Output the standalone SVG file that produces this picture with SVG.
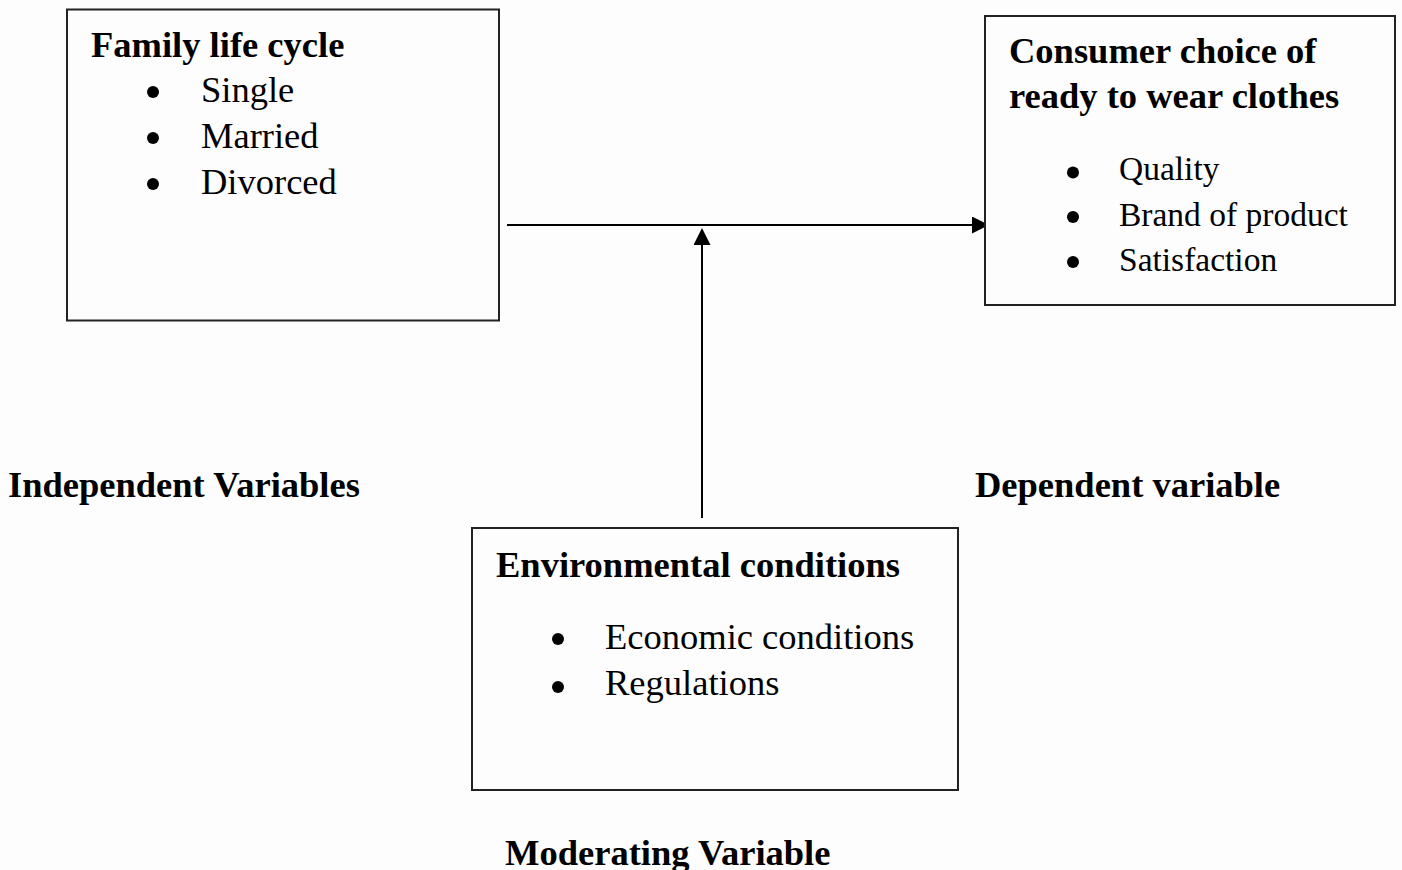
<svg xmlns="http://www.w3.org/2000/svg" width="1402" height="870" viewBox="0 0 1402 870">
<style>
.box{fill:#fdfdfd;stroke:#222;stroke-width:2}
.t{font-family:"Liberation Serif","Times New Roman",serif;fill:#000}
.b{font-weight:bold;font-size:36.5px}
.r{font-size:36.5px}
.rs{font-size:33.5px}
.dot{fill:#000}
.conn{stroke:#000;stroke-width:2;fill:none;marker-end:url(#ah)}
</style>
<defs>
<marker id="ah" markerWidth="17" markerHeight="17" refX="15" refY="8.5" orient="auto" markerUnits="userSpaceOnUse" viewBox="0 0 17 17">
<path d="M0,0 L17,8.5 L0,17 Z" fill="#000"/>
</marker>
</defs>
<rect width="1402" height="870" fill="#fdfdfd"/>
<g id="connectors">
<line class="conn" x1="507" y1="225" x2="987" y2="225"/>
<line class="conn" x1="702" y1="518" x2="702" y2="230"/>
</g>
<g id="family-life-cycle">
<rect class="box" x="67" y="9.5" width="432" height="311"/>
<text class="t b" x="91" y="57">Family life cycle</text>
<circle class="dot" cx="153" cy="92" r="6"/>
<circle class="dot" cx="153" cy="138" r="6"/>
<circle class="dot" cx="153" cy="184" r="6"/>
<text class="t r" x="201" y="102">Single</text>
<text class="t r" x="201" y="148">Married</text>
<text class="t r" x="201" y="194">Divorced</text>
</g>
<g id="consumer-choice">
<rect class="box" x="985" y="16" width="410" height="289"/>
<text class="t b" x="1009" y="63">Consumer choice of</text>
<text class="t b" x="1009" y="108">ready to wear clothes</text>
<circle class="dot" cx="1073" cy="172.5" r="6"/>
<circle class="dot" cx="1073" cy="217" r="6"/>
<circle class="dot" cx="1073" cy="262" r="6"/>
<text class="t rs" x="1119" y="180">Quality</text>
<text class="t rs" x="1119" y="226">Brand of product</text>
<text class="t rs" x="1119" y="271">Satisfaction</text>
</g>
<g id="environmental-conditions">
<rect class="box" x="472" y="528" width="486" height="262"/>
<text class="t b" x="496" y="577">Environmental conditions</text>
<circle class="dot" cx="558" cy="639" r="6"/>
<circle class="dot" cx="558" cy="687" r="6"/>
<text class="t r" x="605" y="649">Economic conditions</text>
<text class="t r" x="605" y="695">Regulations</text>
</g>
<g id="labels">
<text class="t b" x="8" y="497">Independent Variables</text>
<text class="t b" x="975" y="497">Dependent variable</text>
<text class="t b" x="505" y="865">Moderating Variable</text>
</g>
</svg>
